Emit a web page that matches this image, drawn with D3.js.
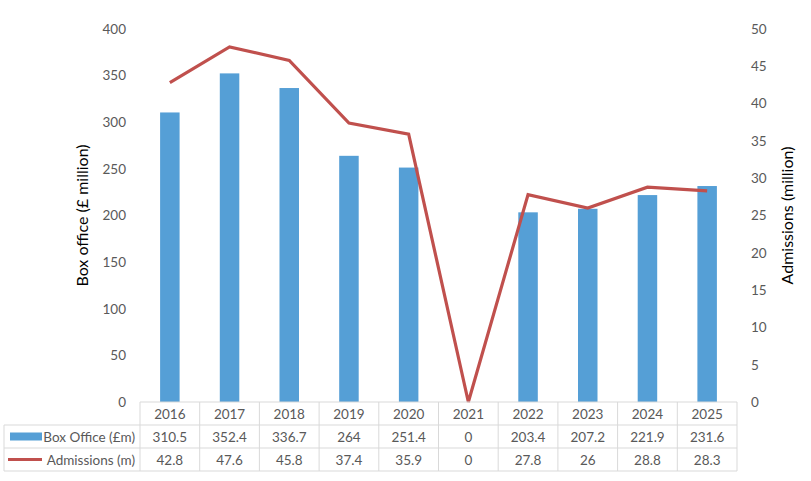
<!DOCTYPE html>
<html><head><meta charset="utf-8">
<script src="https://cdn.jsdelivr.net/npm/d3@7"></script>
<style>body{margin:0;background:#fff}text{font-family:Lato,"Open Sans",sans-serif;fill:#595959}</style>
</head><body><svg id="c" width="811" height="481"></svg>
<script>
const years = ["2016","2017","2018","2019","2020","2021","2022","2023","2024","2025"];
const boxOffice = [310.5,352.4,336.7,264,251.4,0,203.4,207.2,221.9,231.6];
const admissions = [42.8,47.6,45.8,37.4,35.9,0,27.8,26,28.8,28.3];
const leftTicks = [0,50,100,150,200,250,300,350,400];
const rightTicks = [0,5,10,15,20,25,30,35,40,45,50];
const seriesNames = ["Box Office (£m)","Admissions (m)"];

const svg = d3.select("#c");
const L = 140, R = 737, T = 29, B = 402;
const x = d3.scaleBand().domain(years).range([L, R]);
const yL = d3.scaleLinear().domain([0,400]).range([B, T]);
const yR = d3.scaleLinear().domain([0,50]).range([B, T]);
const blue = "#559fd6", red = "#c0504d", grid = "#d9d9d9";

// axes (no lines)
const gl = svg.append("g").attr("transform",`translate(${L},0)`)
  .call(d3.axisLeft(yL).tickValues(leftTicks).tickSize(0).tickPadding(14));
gl.select(".domain").remove();
gl.selectAll("text").style("font-size","13.5px").attr("fill","#595959").style("font-family","Lato,'Open Sans',sans-serif");
const gr = svg.append("g").attr("transform",`translate(${R},0)`)
  .call(d3.axisRight(yR).tickValues(rightTicks).tickSize(0).tickPadding(14));
gr.select(".domain").remove();
gr.selectAll("text").style("font-size","13.5px").attr("fill","#595959").style("font-family","Lato,'Open Sans',sans-serif");

// bars
const bw = 19.5;
svg.append("g").selectAll("rect").data(years).join("rect")
  .attr("x", d => x(d) + x.bandwidth()/2 - bw/2)
  .attr("width", bw)
  .attr("y", (d,i) => yL(boxOffice[i]))
  .attr("height", (d,i) => B - yL(boxOffice[i]))
  .attr("fill", blue);

// line
const line = d3.line().x((d,i) => x(years[i]) + x.bandwidth()/2).y(d => yR(d));
svg.append("path").datum(admissions).attr("d", line)
  .attr("fill","none").attr("stroke",red).attr("stroke-width",3.2).attr("stroke-linejoin","miter");

// axis titles
svg.append("text").attr("transform",`translate(88,${(T+B)/2}) rotate(-90)`)
  .attr("text-anchor","middle").style("font-size","16px").style("fill","#000").text("Box office (£ million)");
svg.append("text").attr("transform",`translate(793,${(T+B)/2}) rotate(-90)`)
  .attr("text-anchor","middle").style("font-size","16px").style("fill","#000").text("Admissions (million)");

// data table
const rowY = [402, 425, 448, 471];
const tLeft = 4;
const tg = svg.append("g");
tg.append("line").attr("x1",L).attr("x2",R).attr("y1",rowY[0]).attr("y2",rowY[0]).attr("stroke",grid);
[1,2,3].forEach(k => tg.append("line").attr("x1",tLeft).attr("x2",R).attr("y1",rowY[k]).attr("y2",rowY[k]).attr("stroke",grid));
const xs = years.map(d => x(d)).concat([R]);
xs.forEach(v => tg.append("line").attr("x1",v).attr("x2",v).attr("y1",rowY[0]).attr("y2",rowY[3]).attr("stroke",grid));
tg.append("line").attr("x1",tLeft).attr("x2",tLeft).attr("y1",rowY[1]).attr("y2",rowY[3]).attr("stroke",grid);

const cell = (txt, cx, cy) => tg.append("text").attr("x",cx).attr("y",cy).attr("text-anchor","middle")
  .attr("dominant-baseline","central").style("font-size","13.5px").text(txt);
years.forEach((d,i) => {
  const cx = x(d) + x.bandwidth()/2;
  cell(d, cx, (rowY[0]+rowY[1])/2);
  cell(String(boxOffice[i]), cx, (rowY[1]+rowY[2])/2);
  cell(String(admissions[i]), cx, (rowY[2]+rowY[3])/2);
});
tg.append("rect").attr("x",10).attr("y",(rowY[1]+rowY[2])/2-4).attr("width",32).attr("height",8).attr("fill",blue);
tg.append("line").attr("x1",8).attr("x2",42).attr("y1",(rowY[2]+rowY[3])/2).attr("y2",(rowY[2]+rowY[3])/2)
  .attr("stroke",red).attr("stroke-width",3.2);
tg.append("text").attr("x",135).attr("y",(rowY[1]+rowY[2])/2).attr("text-anchor","end")
  .attr("dominant-baseline","central").style("font-size","13.5px").text(seriesNames[0]);
tg.append("text").attr("x",135).attr("y",(rowY[2]+rowY[3])/2).attr("text-anchor","end")
  .attr("dominant-baseline","central").style("font-size","13.5px").text(seriesNames[1]);
</script></body></html>
